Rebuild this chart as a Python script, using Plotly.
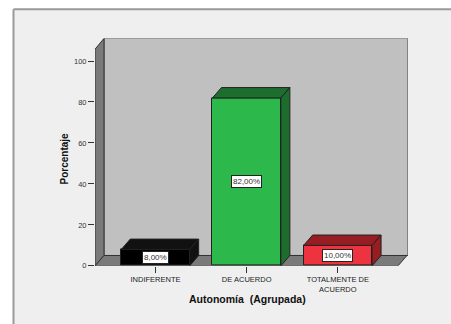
import plotly.graph_objects as go

# Data
categories = ["INDIFERENTE", "DE ACUERDO", "TOTALMENTE DE<br>ACUERDO"]
percentages = [8.0, 82.0, 10.0]
value_labels = ["8,00%", "82,00%", "10,00%"]
front_colors = ["#000000", "#2cb84a", "#ee3340"]
shade_colors = ["#111111", "#1d6e2e", "#961d22"]
y_ticks = [0, 20, 40, 60, 80, 100]

# Canvas geometry (pixels); everything below is placed as fractions of it
W, H = 451, 324
px_left, px_right = 95, 408      # plot area horizontal extent
px_top, px_bottom = 39, 270      # plot area vertical extent
slot_px = 91.2                   # pixels per category
unit_px = 2.08                   # pixels per percentage point
depth_dx, depth_dy = 9, 10.5     # 3D depth offset in pixels
frame_x, frame_y = 13.5, 9.5     # panel frame position

x0 = -0.663
x1 = x0 + (px_right - px_left) / slot_px
y1 = (px_bottom - px_top) / unit_px
ddx = depth_dx / slot_px
ddy = depth_dy / unit_px
bar_w = 0.75
y_front_top = (px_bottom - 50) / unit_px
x_floor_right = x0 + (398 - px_left) / slot_px

FONT = "Liberation Sans, Arial"
PANEL = "#efefef"

fig = go.Figure()

fig.add_trace(go.Bar(
    x=list(range(len(categories))), y=percentages, width=bar_w,
    marker=dict(color=front_colors, line=dict(color="#222222", width=1)),
    hoverinfo="skip", showlegend=False,
))

fx, fy = frame_x / W, 1 - frame_y / H
shapes = []
# white margin above and left of the panel frame
shapes.append(dict(type="rect", xref="paper", yref="paper", x0=-0.05, x1=1.05, y0=fy, y1=1.05,
                   fillcolor="#ffffff", line=dict(width=0), layer="below"))
shapes.append(dict(type="rect", xref="paper", yref="paper", x0=-0.05, x1=fx, y0=-0.05, y1=1.05,
                   fillcolor="#ffffff", line=dict(width=0), layer="below"))
# panel frame lines
shapes.append(dict(type="line", xref="paper", yref="paper", x0=fx, x1=1.05, y0=fy, y1=fy,
                   line=dict(color="#9a9a9a", width=2), layer="below"))
shapes.append(dict(type="line", xref="paper", yref="paper", x0=fx, x1=fx, y0=-0.05, y1=fy,
                   line=dict(color="#9a9a9a", width=2), layer="below"))
# back wall
shapes.append(dict(type="rect", xref="x", yref="y",
                   x0=x0 + ddx, x1=x1, y0=ddy, y1=y1,
                   fillcolor="#c0c0c0", line=dict(color="#444444", width=1),
                   layer="below"))
# left wall
shapes.append(dict(type="path", xref="x", yref="y",
                   path=f"M {x0},0 L {x0},{y_front_top} L {x0 + ddx},{y1} L {x0 + ddx},{ddy} Z",
                   fillcolor="#7a7a7a", line=dict(color="#333333", width=1),
                   layer="below"))
# floor
shapes.append(dict(type="path", xref="x", yref="y",
                   path=f"M {x0},0 L {x_floor_right},0 L {x_floor_right + ddx},{ddy} L {x0 + ddx},{ddy} Z",
                   fillcolor="#7a7a7a", line=dict(color="#333333", width=1),
                   layer="below"))

# top and side faces of each bar
for i, v in enumerate(percentages):
    bl, br = i - bar_w / 2, i + bar_w / 2
    shapes.append(dict(type="path", xref="x", yref="y",
                       path=f"M {bl},{v} L {bl + ddx},{v + ddy} L {br + ddx},{v + ddy} L {br},{v} Z",
                       fillcolor=shade_colors[i], line=dict(color="#222222", width=1),
                       layer="above"))
    shapes.append(dict(type="path", xref="x", yref="y",
                       path=f"M {br},0 L {br},{v} L {br + ddx},{v + ddy} L {br + ddx},{ddy} Z",
                       fillcolor=shade_colors[i], line=dict(color="#222222", width=1),
                       layer="above"))

annotations = []
for i, v in enumerate(percentages):
    annotations.append(dict(x=i, y=v / 2, xref="x", yref="y", text=value_labels[i],
                            showarrow=False, bgcolor="#ffffff", bordercolor="#222222",
                            borderwidth=1, borderpad=1,
                            font=dict(family=FONT, size=8, color="#333333")))

annotations.append(dict(x=65 / W, y=1 - 161 / H, xref="paper", yref="paper",
                        xanchor="center", yanchor="middle",
                        text="<b>Porcentaje</b>", textangle=-90, showarrow=False,
                        font=dict(family=FONT, size=10, color="#111111")))
annotations.append(dict(x=247 / W, y=1 - 304 / H, xref="paper", yref="paper",
                        xanchor="center", yanchor="middle",
                        text="<b>Autonomía\u00a0 (Agrupada)</b>", showarrow=False,
                        font=dict(family=FONT, size=10.5, color="#111111")))

fig.update_layout(
    width=W, height=H,
    margin=dict(l=0, r=0, t=0, b=0),
    paper_bgcolor=PANEL,
    plot_bgcolor="rgba(0,0,0,0)",
    shapes=shapes,
    annotations=annotations,
    bargap=0,
    xaxis=dict(domain=[px_left / W, px_right / W], range=[x0, x1],
               tickvals=list(range(len(categories))), ticktext=categories,
               ticks="outside", ticklen=6, tickcolor="#333333",
               showgrid=False, zeroline=False, showline=False, fixedrange=True,
               tickfont=dict(family=FONT, size=7.5, color="#222222")),
    yaxis=dict(domain=[1 - px_bottom / H, 1 - px_top / H], range=[0, y1],
               tickvals=y_ticks, ticks="outside", ticklen=6, tickcolor="#333333",
               showgrid=False, zeroline=False, showline=False, fixedrange=True,
               tickfont=dict(family=FONT, size=7.5, color="#333333")),
)

fig.write_html("out.html")
